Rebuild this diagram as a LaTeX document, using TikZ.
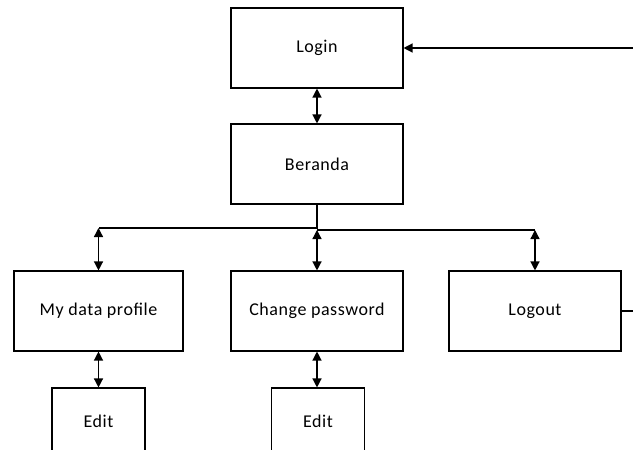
\documentclass[tikz,border=0pt]{standalone}
\usepackage{fontspec}
\setmainfont[LetterSpace=3]{Carlito}
\usetikzlibrary{arrows.meta}
\begin{document}
\begin{tikzpicture}[x=1pt,y=-1pt,
  box/.style={draw,line width=1.1pt,rectangle,inner sep=0pt,
    minimum width=172pt,minimum height=80pt,font=\fontsize{18}{21}\selectfont},
  smallbox/.style={box,minimum width=93pt,minimum height=66pt},
  link/.style={line width=1.3pt},
  tip/.style={-{Triangle[length=9pt,width=9pt]}},
  both/.style={{Triangle[length=9pt,width=9pt]}-{Triangle[length=9pt,width=9pt]}}]
\useasboundingbox (0,0) rectangle (633,450);
% main pages
\node[box] (login) at (317,48) {Login};
\node[box] (beranda) at (317,164) {Beranda};
\node[box,minimum width=169pt] (profile) at (98.5,311) {My data profile};
\node[box] (password) at (317,311) {Change password};
\node[box] (logout) at (535,311) {Logout};
% sub pages
\node[smallbox] (edit1) at (98.5,421) {Edit};
\node[smallbox] (edit2) at (318,421) {Edit};
% free ends and bus junctions
\coordinate (entry) at (633,48);
\coordinate (exit) at (633,311);
\coordinate (busl) at (98.5,228);
\coordinate (busc) at (317,228);
\coordinate (buscr) at (317,230);
\coordinate (busr) at (535,230);
% connectors
\draw[link,tip] (entry) -- (login.east);
\draw[link,both] (login.south) -- (beranda.north);
\draw[link] (beranda.south) -- (busc) -- (busl);
\draw[link] (buscr) -- (busr);
\draw[link,both] (busl) -- (profile.north);
\draw[link,both] (buscr) -- (password.north);
\draw[link,both] (busr) -- (logout.north);
\draw[link,both] (profile.south) -- (edit1.north);
\draw[link,both] (password.south) -- (password.south |- edit2.north);
\draw[link] (logout.east) -- (exit);
\end{tikzpicture}
\end{document}
